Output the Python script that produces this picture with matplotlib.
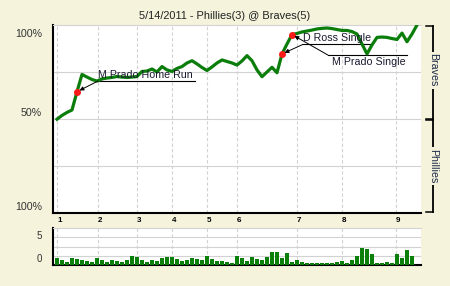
import matplotlib
matplotlib.use("Agg")
import matplotlib.pyplot as plt
import matplotlib.transforms as mtransforms

plt.rcParams['font.family'] = ['Liberation Sans', 'DejaVu Sans']

# ---------------- data ----------------
title = "5/14/2011 - Phillies(3) @ Braves(5)"
# Braves win probability after each play (play index 0..72)
win_prob = [0.499, 0.519, 0.535, 0.548, 0.645, 0.737, 0.723, 0.710, 0.702, 0.713,
            0.718, 0.721, 0.726, 0.723, 0.721, 0.723, 0.726, 0.753, 0.755, 0.766,
            0.750, 0.779, 0.761, 0.753, 0.769, 0.779, 0.798, 0.810, 0.793, 0.774,
            0.758, 0.777, 0.798, 0.814, 0.806, 0.798, 0.787, 0.809, 0.837, 0.810,
            0.761, 0.725, 0.750, 0.775, 0.746, 0.846, 0.899, 0.949, 0.955, 0.963,
            0.968, 0.973, 0.979, 0.982, 0.984, 0.981, 0.976, 0.971, 0.971, 0.965,
            0.952, 0.899, 0.846, 0.894, 0.934, 0.936, 0.934, 0.928, 0.923, 0.957,
            0.911, 0.952, 1.000]
# leverage bars, one per play (gridline units)
leverage = [0.76, 0.54, 0.32, 0.76, 0.65, 0.54, 0.43, 0.32, 0.76, 0.54,
            0.32, 0.54, 0.43, 0.32, 0.54, 0.97, 0.86, 0.54, 0.32, 0.54,
            0.43, 0.76, 0.86, 0.86, 0.65, 0.43, 0.54, 0.76, 0.65, 0.54,
            0.97, 0.65, 0.43, 0.43, 0.32, 0.22, 0.97, 0.76, 0.43, 0.86,
            0.65, 0.54, 0.86, 1.41, 1.41, 0.76, 1.30, 0.32, 0.54, 0.32,
            0.22, 0.22, 0.22, 0.22, 0.22, 0.22, 0.32, 0.43, 0.22, 0.54,
            0.97, 1.84, 1.73, 1.19, 0.22, 0.22, 0.32, 0.22, 1.19, 0.76,
            1.62, 0.97]
inning_labels = ['1', '2', '3', '4', '5', '6', '7', '8', '9']
inning_start = [0, 8.2, 16, 23, 30, 36, 48, 57, 67.8]
# key plays: (play index, label, label x, label y, underline end x, text below underline?)
event_play = [4, 45, 47]
event_text = ['M Prado Home Run', 'D Ross Single', 'M Prado Single']
event_label_x = [8.2, 49.2, 54.2]
event_line_y = [0.702, 0.897, 0.840]
event_line_end = [27.6, 63.0, 70.0]
event_text_below = [False, False, True]

# ---------------- style ----------------
bg = '#F5F3DC'
green = '#0b7d0b'
grid_c = '#d2d2d2'
txt_c = '#333333'

fig = plt.figure(figsize=(4.5, 2.86), dpi=100, facecolor=bg)
W, H = 450, 286
ax = fig.add_axes([53 / W, 1 - 213 / H, (421 - 53) / W, (213 - 25) / H])
ax2 = fig.add_axes([53 / W, 1 - 265 / H, (421 - 53) / W, (265 - 228) / H])

n = len(win_prob)
plays = list(range(n))
xlim = (-0.8, 72.8)

for a in (ax, ax2):
    a.set_facecolor('white')
    a.set_xlim(*xlim)
    a.spines['right'].set_visible(False)
    a.spines['top'].set_color(grid_c)
    a.spines['top'].set_linewidth(0.8)
    a.spines['left'].set_linewidth(1.5)
    a.spines['bottom'].set_linewidth(1.5)
    for xv in inning_start:
        a.axvline(xv, color=grid_c, lw=0.8, ls=(0, (3, 2)), zorder=0.5)

# main chart
ax.set_ylim(0, 1)
for yv in (0.25, 0.5, 0.75):
    ax.axhline(yv, color=grid_c, lw=0.8, zorder=0.5)
ax.plot(plays, win_prob, color=green, lw=2.3, solid_joinstyle='round', zorder=3)
ax.plot(event_play, [win_prob[i] for i in event_play], 'o', color='#ff1a1a',
        ms=4, mec='#ff1a1a', zorder=4)

for p, t, lx, ly, le, below in zip(event_play, event_text, event_label_x,
                                    event_line_y, event_line_end, event_text_below):
    ax.plot([lx, le], [ly, ly], color='black', lw=0.8, zorder=2)
    ax.annotate('', xy=(p, win_prob[p]), xytext=(lx, ly),
                arrowprops=dict(arrowstyle='-|>', color='black', lw=0.7,
                                mutation_scale=6, shrinkA=0, shrinkB=2),
                zorder=5)
    if below:
        ax.text(lx + 0.7, ly - 0.012, t, fontsize=7.7, color='#1a1a30',
                ha='left', va='top', zorder=6)
    else:
        ax.text(lx, ly + 0.008, t, fontsize=7.7, color='#1a1a30',
                ha='left', va='bottom', zorder=6)

ax.set_yticks([0, 0.5, 1])
ax.set_yticklabels(['100%', '50%', '100%'])
ax.tick_params(axis='y', length=0, pad=8, labelsize=7.7, labelcolor=txt_c)
offs = [-7, -7, 8]
for lab, d in zip(ax.get_yticklabels(), offs):
    lab.set_transform(lab.get_transform() +
                      mtransforms.ScaledTranslation(0, -d / 100, fig.dpi_scale_trans))

ax.set_xticks(inning_start)
ax.set_xticklabels(inning_labels, fontsize=5.8, fontweight='bold', color='black')
ax.tick_params(axis='x', length=0, pad=3)
for lab in ax.get_xticklabels():
    lab.set_horizontalalignment('left')

# bracket with team names
tr = mtransforms.blended_transform_factory(ax.transAxes, ax.transData)
xl, xt = 1.032, 1.013
for y0, y1, name, ym in ((0.995, 0.502, 'Braves', 0.76), (0.494, 0.006, 'Phillies', 0.25)):
    ax.plot([xl, xl], [y0, y1], color='black', lw=1.3, transform=tr, clip_on=False)
    ax.plot([xt, xl], [y0, y0], color='black', lw=1.1, transform=tr, clip_on=False)
    ax.plot([xt, xl], [y1, y1], color='black', lw=1.1, transform=tr, clip_on=False)
    ax.text(xl, ym, name, rotation=270, transform=tr, ha='center', va='center',
            fontsize=7.7, color='#1c2a48', clip_on=False,
            bbox=dict(facecolor=bg, edgecolor='none', pad=1.2))

fig.text(0.5, 1 - 15.7 / H, title, ha='center', va='center', fontsize=7.9, color='#222222')

# leverage chart
ax2.set_ylim(0, 4)
for yv in (1, 2, 3):
    ax2.axhline(yv, color=grid_c, lw=0.8, zorder=0.5)
ax2.bar(range(len(leverage)), leverage, width=0.8, color='#0a7f0a', zorder=3)
ax2.set_xticks([])
ax2.set_yticks([0, 3])
ax2.set_yticklabels(['0', '5'])
ax2.tick_params(axis='y', length=0, pad=8, labelsize=7, labelcolor=txt_c)
for lab, d in zip(ax2.get_yticklabels(), [-7, -2]):
    lab.set_transform(lab.get_transform() +
                      mtransforms.ScaledTranslation(0, -d / 100, fig.dpi_scale_trans))

fig.savefig('out.png', dpi=100, facecolor=bg)
